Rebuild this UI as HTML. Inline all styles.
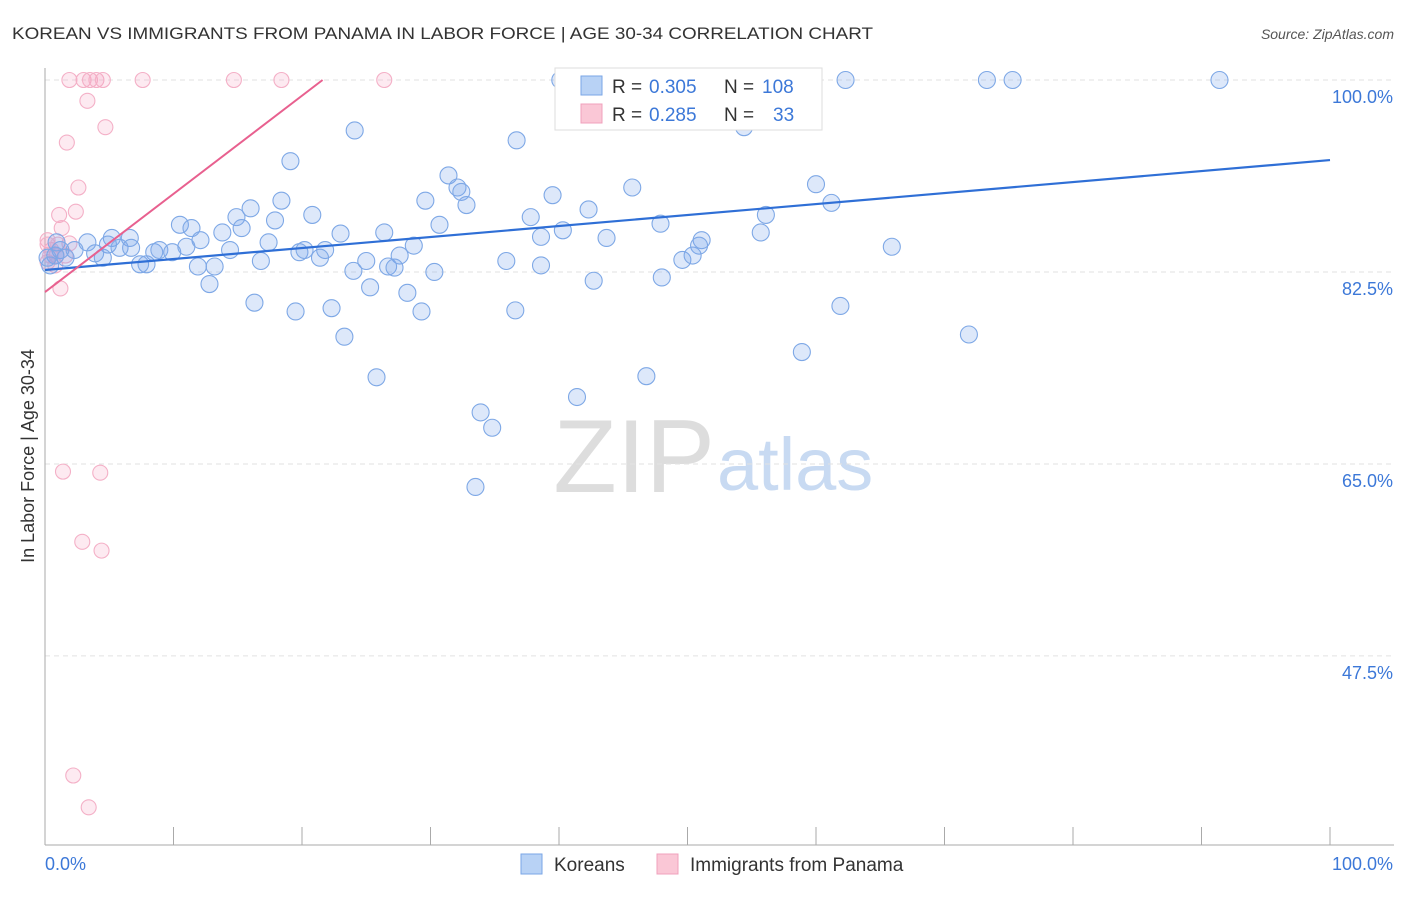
<!DOCTYPE html>
<html><head><meta charset="utf-8"><style>
body{margin:0;background:#fff;font-family:"Liberation Sans",sans-serif}
svg text{font-family:"Liberation Sans",sans-serif}
</style></head><body>
<svg id="c" width="1406" height="892" xmlns="http://www.w3.org/2000/svg">
<text x="12" y="39" font-size="17" fill="#333" textLength="861" lengthAdjust="spacingAndGlyphs">KOREAN VS IMMIGRANTS FROM PANAMA IN LABOR FORCE | AGE 30-34 CORRELATION CHART</text>
<text x="1394" y="39" font-size="14" fill="#555" font-style="italic" text-anchor="end">Source: ZipAtlas.com</text>
<text x="715" y="492" font-size="104" fill="#ddd" text-anchor="end" font-family="Liberation Serif">ZIP</text>
<text x="717" y="490" font-size="74" fill="#c8daf2">atlas</text>
<g id="grid"></g>
<g id="pts"></g>
<g id="lines"></g>
<text transform="translate(34,456) rotate(-90)" font-size="18" fill="#333" text-anchor="middle">In Labor Force | Age 30-34</text>
<g>
<rect x="555" y="68" width="267" height="62" fill="#fff" stroke="#ddd"/>
<rect x="581" y="76" width="21" height="19" fill="#b8d2f5" stroke="#7aa6e6"/>
<rect x="581" y="104" width="21" height="19" fill="#fac7d6" stroke="#f0a0bc"/>
<text x="612" y="93" font-size="19" fill="#333">R =</text>
<text x="649" y="93" font-size="19" fill="#3c78d8">0.305</text>
<text x="724" y="93" font-size="19" fill="#333">N =</text>
<text x="762" y="93" font-size="19" fill="#3c78d8">108</text>
<text x="612" y="121" font-size="19" fill="#333">R =</text>
<text x="649" y="121" font-size="19" fill="#3c78d8">0.285</text>
<text x="724" y="121" font-size="19" fill="#333">N =</text>
<text x="773" y="121" font-size="19" fill="#3c78d8">33</text>
</g>
<g>
<rect x="521" y="854" width="21" height="20" fill="#b8d2f5" stroke="#7aa6e6"/>
<text x="554" y="871" font-size="19" fill="#333">Koreans</text>
<rect x="657" y="854" width="21" height="20" fill="#fac7d6" stroke="#f0a0bc"/>
<text x="690" y="871" font-size="19" fill="#333">Immigrants from Panama</text>
</g>
</svg>
<script>
const yTicks=[100,82.5,65,47.5];
const yTickLabels=["100.0%","82.5%","65.0%","47.5%"];
const xTickLabels=["0.0%","100.0%"];
const koreaX=[40.1,54.7,57.6,62.3,73.3,75.3,91.4,52.2,54.4,24.1,36.7,19.1,31.4,32.1,32.4,45.7,60.0,39.5,18.4,29.6,32.8,16.0,20.8,37.8,42.3,14.9,17.9,61.2,56.1,10.5,11.4,30.7,47.9,15.3,13.8,40.3,23.0,26.4,38.6,55.7,6.6,3.3,5.2,12.1,17.4,43.7,51.1,50.9,65.9,4.9,5.8,6.7,8.5,8.9,9.9,11.0,19.8,20.2,21.8,28.7,14.4,27.6,21.4,4.5,3.9,1.2,2.3,1.6,0.8,16.8,25.0,35.9,38.6,49.6,50.4,7.4,7.9,11.9,13.2,24.0,26.7,27.2,30.3,48.0,42.7,12.8,25.3,28.2,16.3,22.3,61.9,19.5,29.3,36.6,71.9,23.3,58.9,25.8,46.8,41.4,33.9,34.8,33.5,0.4,0.9,0.2];
const koreaY=[100,100,100,100,100,100,100,98.2,95.7,95.4,94.5,92.6,91.3,90.2,89.8,90.2,90.5,89.5,89.0,89.0,88.6,88.3,87.7,87.5,88.2,87.5,87.2,88.8,87.7,86.8,86.5,86.8,86.9,86.5,86.1,86.3,86.0,86.1,85.7,86.1,85.6,85.2,85.6,85.4,85.2,85.6,85.4,84.9,84.8,85.0,84.7,84.7,84.3,84.5,84.3,84.8,84.3,84.5,84.5,84.9,84.5,84.0,83.8,83.8,84.2,84.5,84.5,83.8,84.0,83.5,83.5,83.5,83.1,83.6,84.0,83.2,83.2,83.0,83.0,82.6,83.0,82.9,82.5,82.0,81.7,81.4,81.1,80.6,79.7,79.2,79.4,78.9,78.9,79.0,76.8,76.6,75.2,72.9,73.0,71.1,69.7,68.3,62.9,83.1,85.2,83.8];
const panamaX=[1.9,3.0,3.5,4.0,4.5,7.6,14.7,18.4,26.4,3.3,4.7,1.7,2.6,1.1,2.4,1.3,0.2,1.9,0.5,0.9,0.2,1.2,1.4,4.3,2.9,4.4,2.2,3.4,1.6,0.8,0.2,0.4,1.0];
const panamaY=[100,100,100,100,100,100,100,100,100,98.1,95.7,94.3,90.2,87.7,88.0,86.5,85.4,85.1,84.5,84.0,83.4,81.0,64.3,64.2,57.9,57.1,36.6,33.7,84.0,83.1,85.0,84.0,85.0];
const koreaTrend=[82.68,92.7];
const panamaTrend=[80.67,100,21.6];
const NS="http://www.w3.org/2000/svg";
const sx=v=>45+v*12.85, sy=v=>80+(100-v)*10.97;
function mk(t,a,p){const e=document.createElementNS(NS,t);for(const k in a)e.setAttribute(k,a[k]);p.appendChild(e);return e;}
const grid=document.getElementById('grid');
yTicks.forEach((t,i)=>{
 const l=mk('line',{x1:45,x2:1394,y1:sy(t),y2:sy(t),stroke:'#e2e2e2','stroke-dasharray':'5,4'},grid);
 
 
 const tx=mk('text',{x:1393,y:sy(t)+23,'font-size':18,fill:'#3c78d8','text-anchor':'end'},grid);
 tx.textContent=yTickLabels[i];
 
 
});
const ya=mk('line',{x1:45,x2:45,y1:68,y2:845,stroke:'#aaa'},grid);


const xa=mk('line',{x1:45,x2:1394,y1:845,y2:845,stroke:'#aaa'},grid);


for(let i=0;i<=10;i++){const t=mk('line',{x1:sx(i*10),x2:sx(i*10),y1:827,y2:845,stroke:'#aaa'},grid);
 
 }
[[0,'start',45],[1,'end',1393]].forEach(([i,a,x])=>{const t=mk('text',{x:x,y:870,'font-size':18,fill:'#3c78d8','text-anchor':a},grid);t.textContent=xTickLabels[i];
 
 });
const pts=document.getElementById('pts');
panamaX.forEach((x,i)=>{const c=mk('circle',{cx:sx(x),cy:sy(panamaY[i]),r:7.5,fill:'rgba(245,160,190,0.22)',stroke:'#f4b0c7','stroke-width':1.1},pts);
 
 });
koreaX.forEach((x,i)=>{const c=mk('circle',{cx:sx(x),cy:sy(koreaY[i]),r:8.5,fill:'rgba(120,165,235,0.25)',stroke:'#7ea8e6','stroke-width':1.1},pts);
 
 });
const lines=document.getElementById('lines');
const kl=mk('line',{x1:sx(0),y1:sy(koreaTrend[0]),x2:sx(100),y2:sy(koreaTrend[1]),stroke:'#2f6fd6','stroke-width':2.2},lines);


const pl=mk('line',{x1:sx(0),y1:sy(panamaTrend[0]),x2:sx(panamaTrend[2]),y2:sy(panamaTrend[1]),stroke:'#e8608f','stroke-width':2},lines);


</script>
</body></html>
